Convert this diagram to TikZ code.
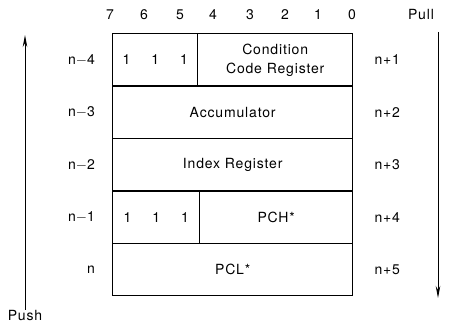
\documentclass[tikz,border=0pt]{standalone}
\usepackage{fontspec}
\setmainfont[LetterSpace=6]{TeX Gyre Heros}
\usetikzlibrary{positioning, arrows.meta}
\tikzset{
x=1pt, y=-1pt, % picture units follow the page
>={Stealth[length=12pt, width=4.5pt]}, % long narrow arrow heads
every node/.style={font=\fontsize{14}{19}\selectfont},
cell/.style={draw, line width=1.4pt, minimum height=52.4pt, inner sep=0pt, anchor=north west}, % one box of the stack
lbl/.style={inner sep=1pt}, % address and bit labels
}

\begin{document}
\begin{tikzpicture}
                \useasboundingbox (0,0) rectangle (459,329);

                % bit numbers
                \foreach \b/\x in {7/110,6/144,5/180,4/213,3/250,2/285,1/318,0/352}
                    \node[lbl] (bit\b) at (\x,15) {\b};

                % stack cells
                \node[cell, minimum width=85pt] (ccl) at (112,33) {1\hspace{21pt}1\hspace{21pt}1};
                \node[cell, minimum width=155pt, align=center] (ccr) at (197,33) {Condition\\Code Register};
                \node[cell, minimum width=240pt] (acc) at (112,85.4) {Accumulator};
                \node[cell, minimum width=240pt] (idx) at (112,137.8) {Index Register};
                \node[cell, minimum width=87pt] (pchl) at (112,190.2) {1\hspace{21pt}1\hspace{21pt}1};
                \node[cell, minimum width=153pt] (pch) at (199,190.2) {PCH*};
                \node[cell, minimum width=240pt] (pcl) at (112,242.6) {PCL*};

                % addresses
                \node[lbl, left=16pt of ccl.west] (am4) {n$-$4};
                \node[lbl, left=16pt of acc.west] (am3) {n$-$3};
                \node[lbl, left=16pt of idx.west] (am2) {n$-$2};
                \node[lbl, left=16pt of pchl.west] (am1) {n$-$1};
                \node[lbl, left=16pt of pcl.west] (a0) {n};
                \node[lbl, right=20pt of ccr.east] (ap1) {n+1};
                \node[lbl, right=20pt of acc.east] (ap2) {n+2};
                \node[lbl, right=20pt of idx.east] (ap3) {n+3};
                \node[lbl, right=20pt of pch.east] (ap4) {n+4};
                \node[lbl, right=20pt of pcl.east] (ap5) {n+5};

                % push and pull
                \node[lbl] (push) at (25,316) {Push};
                \coordinate (pushtop) at (25,35);
                \draw[->, line width=0.9pt] (push.north) -- (pushtop);
                \node[lbl] (pull) at (421,15) {Pull};
                \coordinate (pulltop) at (438,32);
                \coordinate (pullbot) at (438,298);
                \draw[->, line width=0.9pt] (pulltop) -- (pullbot);
            \end{tikzpicture}
\end{document}
